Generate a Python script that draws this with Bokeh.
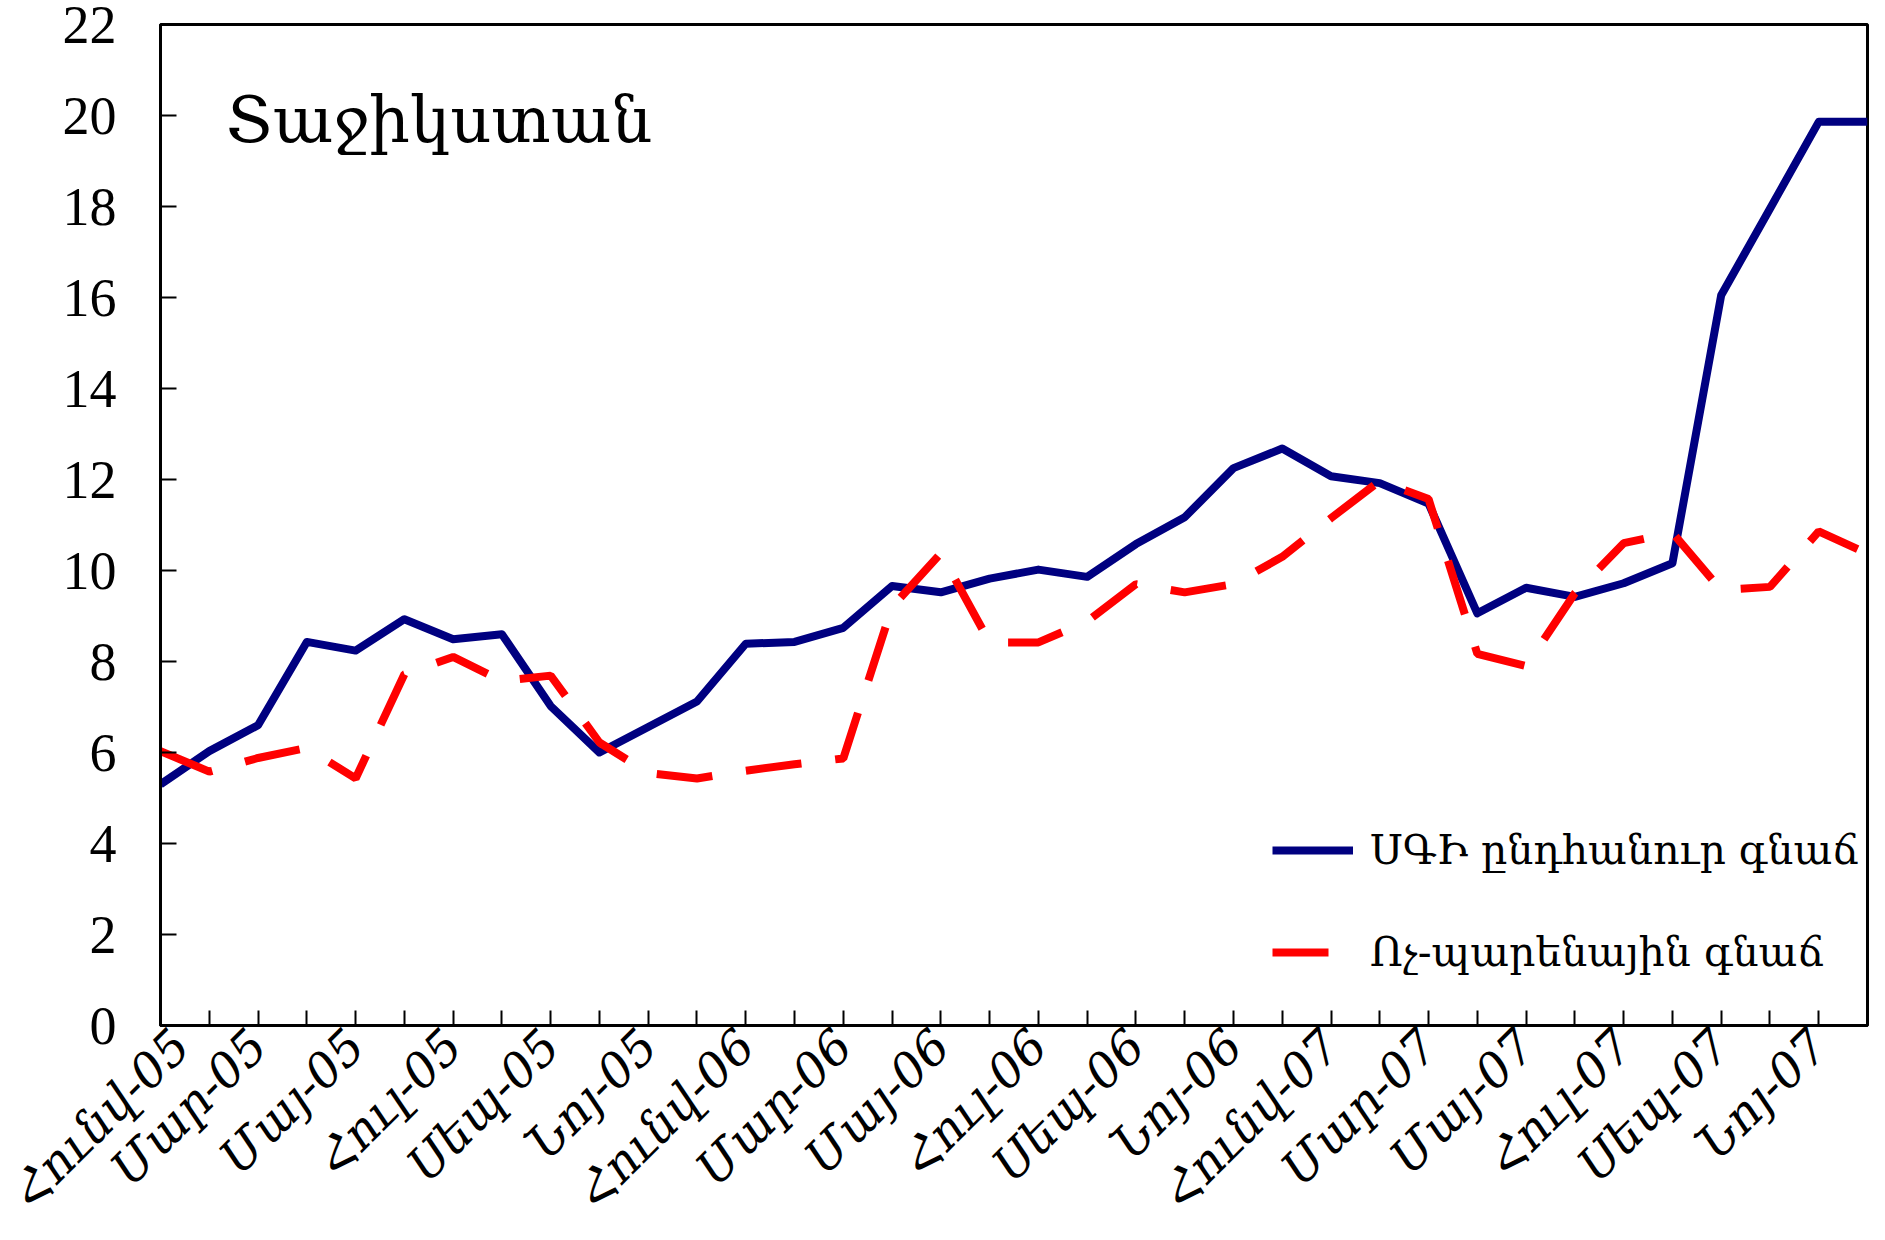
from bokeh.plotting import figure
from bokeh.models import Range1d, FixedTicker, Label, Legend, LegendItem
from bokeh.embed import file_html
from bokeh.resources import INLINE

# ---- data ----
tick_labels = ["Հունվ-05", "Մար-05", "Մայ-05", "Հուլ-05", "Սեպ-05", "Նոյ-05",
               "Հունվ-06", "Մար-06", "Մայ-06", "Հուլ-06", "Սեպ-06", "Նոյ-06",
               "Հունվ-07", "Մար-07", "Մայ-07", "Հուլ-07", "Սեպ-07", "Նոյ-07"]

cpi_total = [5.30, 6.03, 6.60, 8.43, 8.24, 8.93, 8.49, 8.60, 7.02, 6.00, 6.56, 7.12,
             8.39, 8.43, 8.74, 9.66, 9.52, 9.82, 10.02, 9.86, 10.58, 11.17, 12.25, 12.68,
             12.07, 11.92, 11.47, 9.06, 9.62, 9.42, 9.72, 10.16, 16.05, 17.95, 19.86, 19.86]

cpi_nonfood = [6.03, 5.58, 5.88, 6.10, 5.43, 7.72, 8.10, 7.57, 7.69, 6.22, 5.55, 5.43,
               5.60, 5.74, 5.87, 9.20, 10.38, 8.42, 8.42, 8.88, 9.70, 9.52, 9.70, 10.30,
               11.15, 11.97, 11.57, 8.17, 7.90, 9.50, 10.60, 10.83, 9.57, 9.64, 10.86, 10.37]

series_names = ["ՍԳԻ ընդհանուր գնաճ", "Ոչ-պարենային գնաճ"]
title_text = "Տաջիկստան"
y_ticks = list(range(0, 23, 2))

ARM_FONT = "DejaVu Serif"
NUM_FONT = "Liberation Serif"

x = list(range(len(cpi_total)))

p = figure(width=1877, height=1240, output_backend="svg", toolbar_location=None,
           x_range=Range1d(0, len(x) - 1), y_range=Range1d(0, 22),
           min_border_left=160, min_border_right=10, min_border_top=24,
           min_border_bottom=213)
p.grid.visible = False
p.outline_line_color = "black"
p.outline_line_width = 3
p.background_fill_color = "white"
p.border_fill_color = "white"

# x axis: tick every month, label every second month
p.xaxis.ticker = FixedTicker(ticks=x)
overrides = {}
for i in x:
    overrides[i] = tick_labels[i // 2] if i % 2 == 0 else ""
p.xaxis.major_label_overrides = overrides
p.xaxis.major_label_orientation = 0.785398
p.xaxis.major_tick_in = 15
p.xaxis.major_tick_out = 0
p.xaxis.minor_tick_line_color = None
p.xaxis.axis_line_width = 3
p.xaxis.axis_line_color = "black"
p.xaxis.major_tick_line_width = 2
p.xaxis.major_tick_line_color = "black"
p.xaxis.major_label_text_font = ARM_FONT
p.xaxis.major_label_text_font_size = "48px"
p.xaxis.major_label_text_font_style = "italic"
p.xaxis.major_label_text_color = "black"
p.xaxis.major_label_standoff = 12

p.yaxis.ticker = FixedTicker(ticks=y_ticks)
p.yaxis.major_tick_in = 16
p.yaxis.major_tick_out = 0
p.yaxis.minor_tick_line_color = None
p.yaxis.axis_line_width = 3
p.yaxis.axis_line_color = "black"
p.yaxis.major_tick_line_width = 2
p.yaxis.major_tick_line_color = "black"
p.yaxis.major_label_text_font = NUM_FONT
p.yaxis.major_label_text_font_size = "54px"
p.yaxis.major_label_text_color = "black"
p.yaxis.major_label_standoff = 44

r1 = p.line(x, cpi_total, line_color="#000080", line_width=8, line_join="round")
r2 = p.line(x, cpi_nonfood, line_color="#FF0000", line_width=8, line_dash="56 34")

p.add_layout(Label(x=1.34, y=19.9, text=title_text, text_font=ARM_FONT,
                   text_font_size="64px", text_baseline="alphabetic",
                   text_color="black"))

legend = Legend(items=[LegendItem(label=series_names[0], renderers=[r1]),
                       LegendItem(label=series_names[1], renderers=[r2])],
                location=(1112, 43), orientation="vertical",
                border_line_color=None, background_fill_alpha=0,
                padding=0, margin=0, spacing=42,
                glyph_width=81, glyph_height=60, label_height=60,
                label_standoff=17, label_text_font=ARM_FONT,
                label_text_font_size="41px", label_text_color="black")
p.add_layout(legend)

open("out.html", "w").write(file_html(p, INLINE))
